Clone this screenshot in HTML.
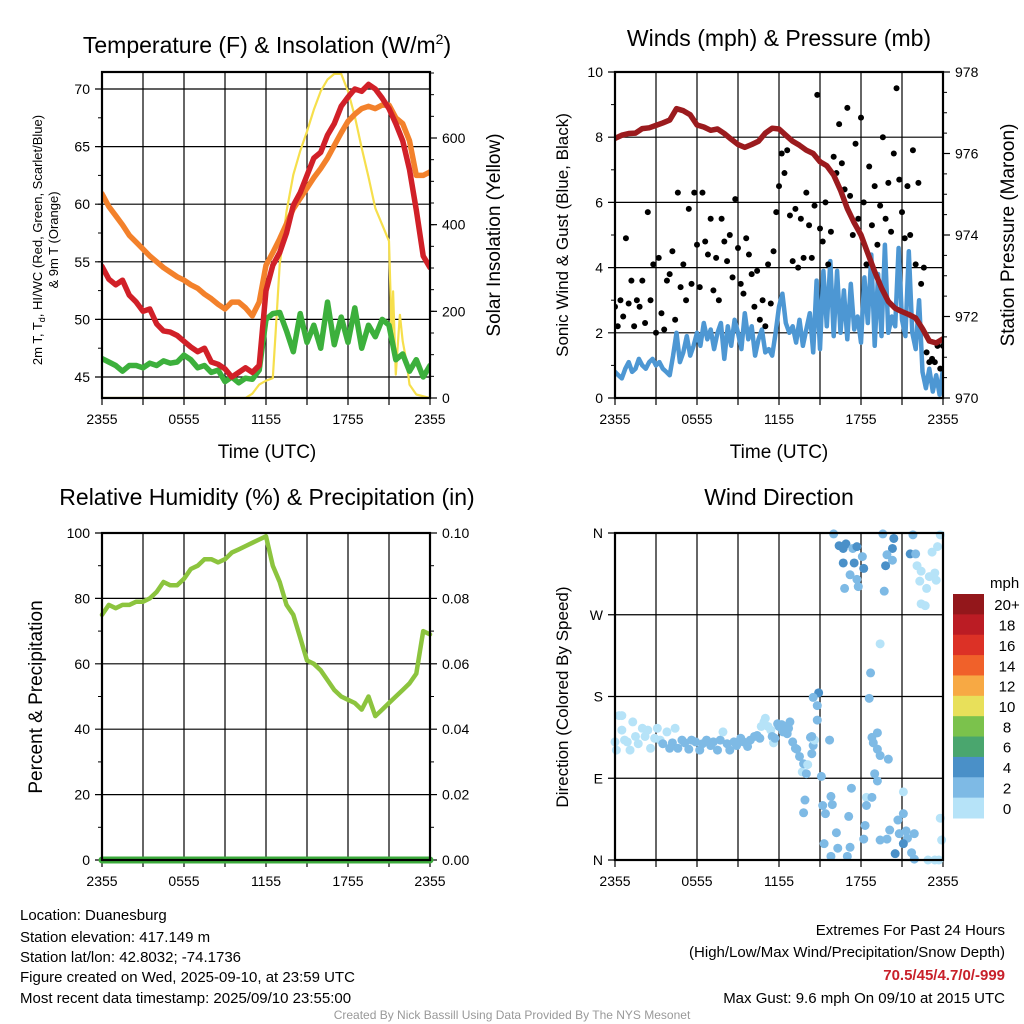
<!DOCTYPE html>
<html><head><meta charset="utf-8">
<style>
html,body{margin:0;padding:0;background:#fff;}
svg{display:block;font-family:"Liberation Sans",Arial,sans-serif;}
</style></head>
<body>
<svg id="chart" width="1024" height="1024" viewBox="0 0 1024 1024">
<defs>
<clipPath id="c1"><rect x="102" y="72" width="328" height="326"/></clipPath>
<clipPath id="c2"><rect x="615" y="72" width="328" height="326"/></clipPath>
</defs>
<rect width="1024" height="1024" fill="#fff"/>
<g id="p1"></g>
<g id="p2"></g>
<g id="p3"></g>
<g id="p4"></g>
<g font-size="15" fill="#000">
<text x="20" y="920">Location: Duanesburg</text>
<text x="20" y="942">Station elevation: 417.149 m</text>
<text x="20" y="962">Station lat/lon: 42.8032; -74.1736</text>
<text x="20" y="982">Figure created on Wed, 2025-09-10, at 23:59 UTC</text>
<text x="20" y="1003">Most recent data timestamp: 2025/09/10 23:55:00</text>
</g>
<g font-size="15" text-anchor="end">
<text x="1005" y="935">Extremes For Past 24 Hours</text>
<text x="1005" y="957">(High/Low/Max Wind/Precipitation/Snow Depth)</text>
<text x="1005" y="980" fill="#c8202a" font-weight="bold">70.5/45/4.7/0/-999</text>
<text x="1005" y="1003">Max Gust: 9.6 mph On 09/10 at 2015 UTC</text>
</g>
<text x="512" y="1019" font-size="12" fill="#999" text-anchor="middle">Created By Nick Bassill Using Data Provided By The NYS Mesonet</text>
</svg>
<script>
// ---- data (hours since 2355 UTC) ----
const xTickLabels = ["2355","0555","1155","1755","2355"];
const tempRed = [54.6,53.5,53.0,53.4,52.1,51.5,50.7,50.9,49.6,49.0,48.9,48.6,48.1,47.6,47.2,47.5,46.3,46.1,45.7,45.0,45.4,45.8,45.4,46.0,52.5,54.7,55.8,57.5,59.9,61.0,62.5,64.0,64.5,66.0,67.0,68.5,69.3,70.0,69.8,70.4,70.0,69.2,68.3,67.0,65.5,63.0,59.5,55.5,54.5];
const tempOrange = [60.9,59.8,59.0,58.2,57.3,56.7,56.1,55.5,55.0,54.5,54.1,53.7,53.4,53.0,52.7,52.2,51.8,51.3,50.9,51.5,51.5,51.0,50.3,51.5,54.7,55.8,57.0,58.3,59.6,60.5,61.4,62.3,63.1,64.0,65.1,66.2,67.2,67.8,68.3,68.5,68.3,68.6,68.6,67.5,67.0,65.5,62.5,62.5,62.8];
const dewGreen = [46.6,46.3,46.0,45.5,46.0,46.0,45.8,46.2,46.0,46.4,46.2,46.3,46.9,46.5,45.8,46.0,45.4,45.6,44.6,45.0,44.5,44.9,44.8,45.6,50.0,50.5,50.6,49.0,47.2,50.5,48.0,49.5,47.5,51.5,47.8,50.2,48.0,51.0,47.5,49.5,48.5,50.0,49.5,46.5,47.0,45.5,46.5,45.0,46.0];
const solarTimes = [0,10.5,11,11.5,12,12.5,12.7,13,13.5,14,14.5,15,15.5,16,16.5,17,17.5,18,18.5,19,19.5,20,20.5,21,21.1,21.2,21.3,21.5,21.7,21.8,22,22.3,22.5,23,24];
const solarValues = [0,0,10,31,40,46,150,308,430,515,570,615,665,708,735,748,748,708,650,577,510,438,400,362,250,131,246,54,150,192,131,80,31,8,0];
const windSpeed = [.8,.7,.6,.9,1.1,.8,.9,1.2,1.0,.9,1.1,1.2,
1.0,1.1,.9,.8, .7,1.3,2.0,1.1, 1.4,1.9,1.3,1.6, 2.0,1.6,2.3,1.8, 2.1,1.5,2.0,2.3, 1.2,2.2,1.6,2.4, 2.0,1.5,2.6,1.8, 2.2,1.3,1.8,2.1, 1.4,1.5,1.3,2.0, 2.8,3.2,2.3,2.0, 2.2,1.7,2.4,1.6, 2.1,2.6,1.4,3.6, 1.5,3.9,2.2,4.2, 1.9,3.9,2.0,3.3, 1.8,3.5,2.1,2.5, 1.7,3.7,2.3,4.4, 1.6,3.8,1.9,4.7, 2.0,2.5,2.2,4.6, 2.4,1.9,4.5,2.0, 1.5,3.0,0.8,0.3, 0.9,0.2,0.7,0.1, 0.9];
const windGust = [2.8,2.2,3.0,2.5,4.9, 2.9,3.6,2.2,3.0,2.8, 3.6,2.3,5.7,3.0,4.1, 2.0,4.3,2.6,2.1,3.6, 3.8,4.5,2.4,6.3,3.4, 4.1,3.0,5.8,3.5,6.3, 4.7,3.4,6.3,4.8,4.4, 5.5,3.3,4.3,3.0,5.5, 4.8,4.2,5.0,3.7,6.1, 4.6,3.5,3.2,4.9,4.4, 3.8,2.8,3.9,2.4,3.0, 2.2,4.1,2.9,4.5,5.7, 6.5,7.5,6.9,7.6,5.6, 4.2,5.8,4.0,5.5,4.3, 6.3,5.3,4.3,5.9,9.3, 5.2,4.8,6.0,4.1,5.1, 7.4,6.9,8.4,7.2,6.4, 8.9,6.2,5.0,7.8,5.5, 8.6,6.0,4.1,7.1,5.3, 6.5,4.7,5.9,8.0,5.5, 6.6,5.1,7.5,9.5,6.7, 5.7,4.9,6.5,5.0,7.6, 4.1,6.6,3.5,4.0,1.4, 1.1,1.2,1.1,1.6,0.9,1.6];
const pressure = [976.37,976.45,976.49,976.5,976.61,976.63,976.69,976.75,976.82,977.1,977.05,976.95,976.7,976.65,976.57,976.6,976.49,976.35,976.22,976.15,976.22,976.3,976.5,976.62,976.6,976.45,976.3,976.2,976.08,976.0,975.8,975.7,975.47,975.1,974.65,974.3,974.0,973.55,973.1,972.7,972.37,972.2,972.12,972.05,971.96,971.7,971.4,971.35,971.45];
const rhValues = [75,78,77,78,78,79,79,80,82,85,84,84,86,89,90,92,92,91,92,94,95,96,97,98,99,90,85,78,75,68,61,60,58,55,52,50,49,48,46,50,44,46,48,50,52,54,57,70,69];
const precipValues = [0,0,0,0,0,0,0,0,0,0,0,0,0,0,0,0,0,0,0,0,0,0,0,0,0];
const dirTimes = [0,0.1,0.3,0.5,0.5,0.7,0.9,1.1,1.3,1.5,1.7,2.0,2.2,2.4,2.6,2.9,3.1,3.3,3.5,3.8,4.0,4.2,4.4,4.6,4.9,5.1,5.4,5.6,5.9,6.2,6.4,6.7,7.0,7.2,7.5,7.7,7.9,8.2,8.4,8.7,8.9,9.2,9.4,9.7,9.9,10.2,10.4,10.6,10.7,10.9,11.0,11.2,11.4,11.5,11.6,11.7,11.9,12.0,12.2,12.3,12.4,12.6,12.7,12.8,13.0,13.2,13.3,13.5,13.7,13.8,14.0,14.3,14.5,14.6,14.4,
16,16.4,16.7,16.9,17.4,17.7,16.7,17.5,18.1,18.2,17.2,17.7,17.8,16.8,19.6,20.4,20.3,19.9,20.3,19.8,19.7,21.8,21.6,22,22.1,22.4,22.3,22.8,23,23.4,23.5,23.2,23.6,23.8,22.4,22.7,
19.4,18.7,18.6,14.9,14.5,14.8,14.8,19.2,18.8,18.9,19.2,19.4,20,19,19.2,15.7,14.4,15.1,14.1,
13.9,13.8,15.2,15.8,15.9,15.4,17.3,17.1,16.2,15.3,15.8,16.3,17,17.2,18.4,18.8,18.4,18.3,18.2,19.4,19.9,20.1,20.7,21.1,20.8,21.3,21.4,21.9,21.1,20.5,21.7,21.9,21.1,22.9,23.4,23.7,23.8,23.9];
const dirValues = [130,121,159,159,143,132,130,121,152,136,128,145,136,143,123,134,145,132,128,141,123,129,145,123,132,129,122,132,130,121,128,132,126,130,121,132,141,128,121,130,126,134,130,125,132,136,137,134,147,152,156,147,143,136,129,134,150,147,149,141,147,139,145,152,130,123,122,114,97,106,95,135,126,132,117,
359,346,343,348,343,345,327,327,334,321,314,309,301,299,359,354,343,336,330,324,296,358,337,337,324,318,307,299,312,316,308,339,345,358,282,280,
238,206,178,184,179,170,154,140,135,129,122,115,111,95,87,132,136,92,105,
66,52,60,70,61,51,79,48,30,18,4,13,4,14,69,69,60,38,23,22,23,33,44,51,29,32,24,29,18,7,8,1,75,0,0,0,46,22];
const dirSpeeds = [1,1,1,1,1,1,1,1,1,1,1,1,1,1,1,1,1,1,3,1,3,3,1,3,3,3,3,3,3,3,3,3,3,3,3,3,1,3,3,3,3,3,3,3,3,3,3,3,1,1,1,1,1,3,1,3,3,3,3,3,3,3,3,3,3,3,3,3,1,3,3,3,3,1,3,
3,5,5,5,3,5,5,5,3,5,3,3,3,3,3,5,5,3,3,5,3,3,5,3,1,1,1,1,1,1,1,1,1,1,1,1,
1,3,3,5,3,3,3,3,3,3,3,3,3,3,3,3,3,3,1,
3,3,3,3,3,3,3,3,3,3,3,3,3,3,1,3,3,3,3,3,3,3,3,3,3,3,3,3,5,5,3,3,1,1,1,1,1,1];
const speedBins = ["0","2","4","6","8","10","12","14","16","18","20+"];
const binColors = ["#b6e3f8","#7ebae5","#4a90c8","#4aa66e","#7bc24c","#e8e05a","#f7a944","#f0612a","#dc3126","#bb1c24","#93171b"];

const NS="http://www.w3.org/2000/svg";
function mk(parent,tag,attrs,txt){const e=document.createElementNS(NS,tag);for(const k in attrs)e.setAttribute(k,attrs[k]);if(txt!==undefined)e.textContent=txt;parent.appendChild(e);return e;}
function scale(d0,d1,r0,r1){return v=>r0+(v-d0)/(d1-d0)*(r1-r0);}
const TOP=[72,398], BOT=[533,860];

function frame(g,x0,x1,y0,y1,yTicks,yMap,yLbl,rTicks,rMap,rLbl,minorL,minorR){
  const xs=scale(0,24,x0,x1);
  for(let h=3;h<24;h+=3){const l=mk(g,'line',{x1:xs(h),x2:xs(h),y1:y0,y2:y1,stroke:'#000','stroke-width':1.2});
    }
  yTicks.forEach((v,i)=>{const y=yMap(v);
    const l=mk(g,'line',{x1:x0-7,x2:x1,y1:y,y2:y,stroke:'#000','stroke-width':1.2});
    
    const t=mk(g,'text',{x:x0-12,y:y+5,'font-size':14,'text-anchor':'end'},yLbl[i]);
    });
  minorL.forEach(v=>{mk(g,'line',{x1:x0-4,x2:x0,y1:yMap(v),y2:yMap(v),stroke:'#000','stroke-width':1});});
  rTicks.forEach((v,i)=>{const y=rMap(v);
    mk(g,'line',{x1:x1,x2:x1+7,y1:y,y2:y,stroke:'#000','stroke-width':1.2});
    const t=mk(g,'text',{x:x1+12,y:y+5,'font-size':14},rLbl[i]);
    });
  minorR.forEach(v=>{mk(g,'line',{x1:x1,x2:x1+4,y1:rMap(v),y2:rMap(v),stroke:'#000','stroke-width':1});});
  for(let h=0;h<=24;h+=3){mk(g,'line',{x1:xs(h),x2:xs(h),y1:y1,y2:y1+7,stroke:'#000','stroke-width':1.2});}
  xTickLabels.forEach((s,i)=>{const t=mk(g,'text',{x:xs(i*6),y:y1+26,'font-size':14,'text-anchor':'middle'},s);
    });
  return xs;
}
function border(g,x0,x1,y0,y1){const r=mk(g,'rect',{x:x0,y:y0,width:x1-x0,height:y1-y0,fill:'none',stroke:'#000','stroke-width':2.2});
  }
function series(g,xs,ys,times,vals,color,w,name){
  const d=vals.map((v,i)=>(i?'L':'M')+xs(times?times[i]:i*24/(vals.length-1)).toFixed(1)+','+ys(v).toFixed(1)).join('');
  const p=mk(g,'path',{d:d,fill:'none',stroke:color,'stroke-width':w,'stroke-linejoin':'round','stroke-linecap':'round'});
  return p;}
function title(g,x,y,txt,name){const t=mk(g,'text',{x:x,y:y,'font-size':23,'text-anchor':'middle'});t.innerHTML=txt;
  return t;}
function vtitle(g,x,y,txt,size,name){const t=mk(g,'text',{x:x,y:y,'font-size':size,'text-anchor':'middle',transform:`rotate(-90 ${x} ${y})`});t.innerHTML=txt;
  return t;}
function range(a,b,s){const r=[];for(let v=a;v<=b+1e-9;v+=s)r.push(+v.toFixed(4));return r;}

// Panel 1
(function(){
  const g=document.getElementById('p1');const x0=102,x1=430,y0=TOP[0],y1=TOP[1];
  const ys=scale(45,70,377,89), rs=scale(0,600,398,138);
  const xs=frame(g,x0,x1,y0,y1,[45,50,55,60,65,70],ys,["45","50","55","60","65","70"],[0,200,400,600],rs,["0","200","400","600"],range(42.5,72.5,2.5).filter(v=>ys(v)>=y0&&ys(v)<=y1),range(0,750,50).filter(v=>rs(v)>=y0));
  const cg=mk(g,'g',{'clip-path':'url(#c1)'});
  series(cg,xs,rs,solarTimes,solarValues,'#f6df4c',2.2,'solar-insolation-line');
  series(cg,xs,ys,null,dewGreen,'#3cb03c',5.5,'dewpoint-line');
  series(cg,xs,ys,null,tempOrange,'#f3812b',5.5,'temp-9m-line');
  series(cg,xs,ys,null,tempRed,'#d12028',5.5,'temp-2m-line');
  border(g,x0,x1,y0,y1);
  title(g,267,53,'Temperature (F) &amp; Insolation (W/m<tspan font-size="14" dy="-9">2</tspan><tspan dy="9">)</tspan>','temperature-title');
  const t=mk(g,'text',{x:267,y:458,'font-size':19,'text-anchor':'middle'},'Time (UTC)');
  vtitle(g,42,240,'2m T, T<tspan font-size="9" dy="3">d</tspan><tspan dy="-3">, HI/WC (Red, Green, Scarlet/Blue)</tspan>',13,'left-axis-title');
  vtitle(g,58,240,'&amp; 9m T (Orange)',13,'left-axis-title-line2');
  vtitle(g,500,235,'Solar Insolation (Yellow)',19,'right-axis-title');
})();

// Panel 2
(function(){
  const g=document.getElementById('p2');const x0=615,x1=943,y0=TOP[0],y1=TOP[1];
  const ys=scale(0,10,398,72), rs=scale(970,978,398,72);
  const xs=frame(g,x0,x1,y0,y1,[0,2,4,6,8,10],ys,["0","2","4","6","8","10"],[970,972,974,976,978],rs,["970","972","974","976","978"],range(1,9,2),range(970.5,977.5,0.5));
  const cg=mk(g,'g',{'clip-path':'url(#c2)'});
  series(cg,xs,ys,null,windSpeed,'#4d97d3',4.5,'sonic-wind-line');
  windGust.forEach((v,i)=>{const c=mk(cg,'circle',{cx:xs(i*24/(windGust.length-1)),cy:ys(v),r:3,fill:'#000'});
    });
  series(cg,xs,rs,null,pressure,'#9b1b1e',5.5,'pressure-line');
  border(g,x0,x1,y0,y1);
  title(g,779,46,'Winds (mph) &amp; Pressure (mb)','winds-title');
  const t=mk(g,'text',{x:779,y:458,'font-size':19,'text-anchor':'middle'},'Time (UTC)');
  vtitle(g,568,235,'Sonic Wind &amp; Gust (Blue, Black)',17,'left-axis-title');
  vtitle(g,1014,235,'Station Pressure (Maroon)',19,'right-axis-title');
})();

// Panel 3
(function(){
  const g=document.getElementById('p3');const x0=102,x1=430,y0=BOT[0],y1=BOT[1];
  const ys=scale(0,100,860,533), rs=scale(0,0.1,860,533);
  const xs=frame(g,x0,x1,y0,y1,[0,20,40,60,80,100],ys,["0","20","40","60","80","100"],[0,0.02,0.04,0.06,0.08,0.1],rs,["0.00","0.02","0.04","0.06","0.08","0.10"],range(10,90,20),range(0.01,0.09,0.02));
  series(g,xs,ys,null,rhValues,'#8cc43e',4.5,'humidity-line');
  series(g,xs,rs,null,precipValues,'#3cab3c',7,'precipitation-line');
  border(g,x0,x1,y0,y1);
  title(g,267,505,'Relative Humidity (%) &amp; Precipitation (in)','humidity-title');
  vtitle(g,42,697,'Percent &amp; Precipitation',19,'left-axis-title');
})();

// Panel 4
(function(){
  const g=document.getElementById('p4');const x0=615,x1=943,y0=BOT[0],y1=BOT[1];
  const ys=scale(0,360,860,533);
  const xs=frame(g,x0,x1,y0,y1,[0,90,180,270,360],ys,["N","E","S","W","N"],[],ys,[],[],[]);
  dirValues.forEach((v,i)=>{const b=Math.min(10,Math.floor(dirSpeeds[i]/2));
    const c=mk(g,'circle',{cx:xs(dirTimes[i]),cy:ys(v),r:4.5,fill:binColors[b]});
    });
  border(g,x0,x1,y0,y1);
  title(g,779,505,'Wind Direction','wind-direction-title');
  vtitle(g,568,697,'Direction (Colored By Speed)',17,'left-axis-title');
  const lg=mk(g,'g',{});
  const t=mk(lg,'text',{x:990,y:588,'font-size':15},'mph');
  const bh=(818-594)/11;
  speedBins.forEach((s,i)=>{const k=10-i;const y=594+i*bh;
    const r=mk(lg,'rect',{x:953,y:y,width:31,height:bh+0.5,fill:binColors[k]});
    
    const l=mk(lg,'text',{x:1007,y:y+bh/2+6,'font-size':15,'text-anchor':'middle'},speedBins[k]);
    });
})();
</script>
</body></html>
